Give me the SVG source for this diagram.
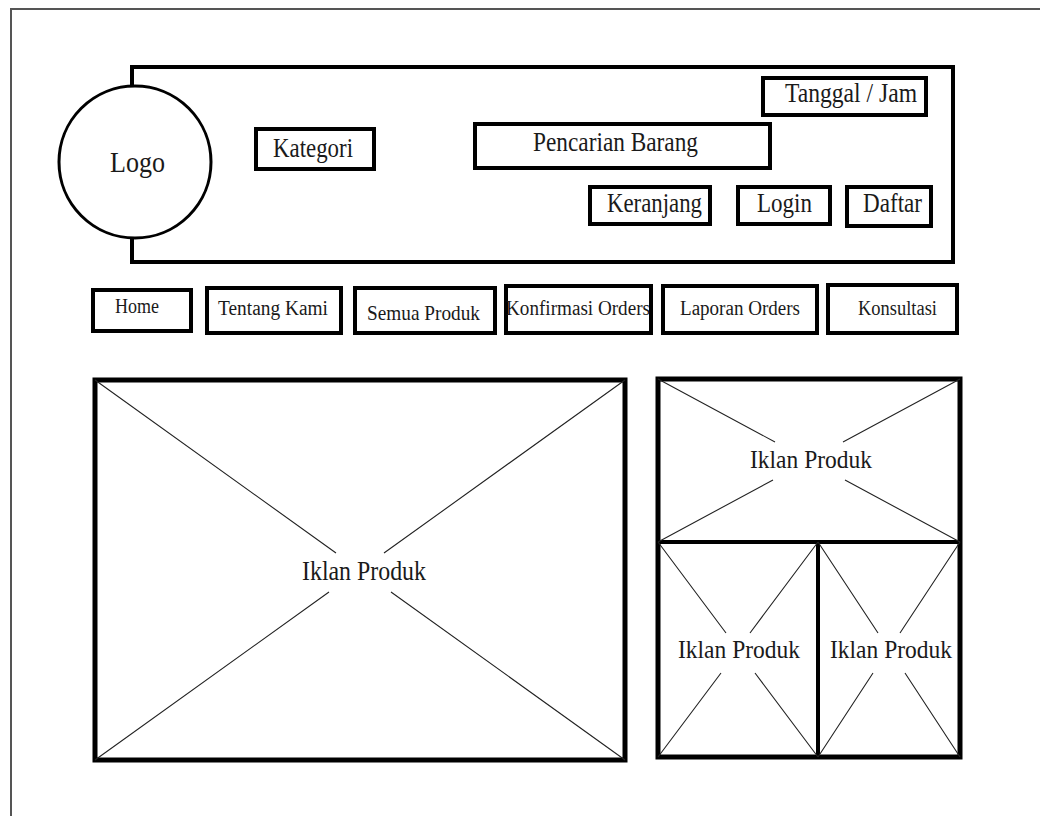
<svg xmlns="http://www.w3.org/2000/svg" width="1040" height="816" viewBox="0 0 1040 816">
<style>
.box{fill:none;stroke:#000;stroke-width:4}
.big{fill:none;stroke:#000;stroke-width:5}
.x{stroke:#222;stroke-width:1.1;fill:none}
text{font-family:"Liberation Serif","Times New Roman",serif;fill:#1a1a1a}
.t26{font-size:27px}
.t20{font-size:20px}
.t24{font-size:25px}
</style>
<rect width="1040" height="816" fill="#fff"/>
<path d="M11,816 V9 H1040" fill="none" stroke="#555" stroke-width="2"/>
<g id="header">
<path d="M132,86 V67 H953 V262 H132 V239" class="box"/>
</g>
<g id="logo">
<circle cx="135" cy="162" r="76" fill="#fff" stroke="#000" stroke-width="3"/>
<text x="110" y="172" font-size="30" textLength="55" lengthAdjust="spacingAndGlyphs">Logo</text>
</g>
<g id="kategori">
<rect x="256" y="129" width="118" height="40" class="box"/>
<text x="273" y="157" class="t26" textLength="80" lengthAdjust="spacingAndGlyphs">Kategori</text>
</g>
<g id="pencarian">
<rect x="475" y="124" width="295" height="44" class="box"/>
<text x="533" y="151" class="t26" textLength="165" lengthAdjust="spacingAndGlyphs">Pencarian Barang</text>
</g>
<g id="tanggal">
<rect x="763" y="78" width="163" height="37" class="box"/>
<text x="785" y="102" class="t26" textLength="132" lengthAdjust="spacingAndGlyphs">Tanggal / Jam</text>
</g>
<g id="keranjang">
<rect x="590" y="187" width="120" height="37" class="box"/>
<text x="607" y="212" class="t26" textLength="95" lengthAdjust="spacingAndGlyphs">Keranjang</text>
</g>
<g id="login">
<rect x="738" y="187" width="92" height="37" class="box"/>
<text x="757" y="212" class="t26" textLength="55" lengthAdjust="spacingAndGlyphs">Login</text>
</g>
<g id="daftar">
<rect x="847" y="187" width="84" height="39" class="box"/>
<text x="863" y="212" class="t26" textLength="59" lengthAdjust="spacingAndGlyphs">Daftar</text>
</g>
<g id="nav-home">
<rect x="93" y="290" width="98" height="41" class="box"/>
<text x="115" y="313" class="t20" textLength="44" lengthAdjust="spacingAndGlyphs">Home</text>
</g>
<g id="nav-tentang">
<rect x="207" y="288" width="134" height="45" class="box"/>
<text x="218" y="315" class="t20" textLength="110" lengthAdjust="spacingAndGlyphs">Tentang Kami</text>
</g>
<g id="nav-semua">
<rect x="355" y="288" width="140" height="45" class="box"/>
<text x="367" y="320" font-size="22" textLength="113" lengthAdjust="spacingAndGlyphs">Semua Produk</text>
</g>
<g id="nav-konfirmasi">
<rect x="506" y="286" width="145" height="47" class="box"/>
<text x="506" y="315" class="t20" textLength="144" lengthAdjust="spacingAndGlyphs">Konfirmasi Orders</text>
</g>
<g id="nav-laporan">
<rect x="663" y="286" width="154" height="47" class="box"/>
<text x="680" y="315" class="t20" textLength="120" lengthAdjust="spacingAndGlyphs">Laporan Orders</text>
</g>
<g id="nav-konsultasi">
<rect x="828" y="285" width="129" height="48" class="box"/>
<text x="858" y="315" class="t20" textLength="79" lengthAdjust="spacingAndGlyphs">Konsultasi</text>
</g>
<g id="iklan-besar">
<rect x="95" y="380" width="530" height="380" class="big"/>
<path class="x" d="M95,380 L336,553 M391,592 L625,760 M625,380 L384,553 M329,592 L95,760"/>
<text x="302" y="580" font-size="28" textLength="124" lengthAdjust="spacingAndGlyphs">Iklan Produk</text>
</g>
<g id="iklan-atas">
<rect x="658" y="379" width="302" height="378" class="big"/>
<line x1="658" y1="542" x2="960" y2="542" stroke="#000" stroke-width="4"/>
<path class="x" d="M658,379 L775,442 M845,480 L960,542 M960,379 L843,442 M773,480 L658,542"/>
<text x="750" y="468" class="t24" textLength="122" lengthAdjust="spacingAndGlyphs">Iklan Produk</text>
</g>
<g id="iklan-kiri">
<line x1="818" y1="542" x2="818" y2="757" stroke="#000" stroke-width="4"/>
<path class="x" d="M658,542 L726,633 M755,673 L818,757 M818,542 L750,633 M721,673 L658,757"/>
<text x="678" y="658" class="t24" textLength="122" lengthAdjust="spacingAndGlyphs">Iklan Produk</text>
</g>
<g id="iklan-kanan">
<path class="x" d="M818,542 L878,633 M905,673 L960,757 M960,542 L900,633 M873,673 L818,757"/>
<text x="830" y="658" class="t24" textLength="122" lengthAdjust="spacingAndGlyphs">Iklan Produk</text>
</g>
<g id="connectors"></g>
</svg>
